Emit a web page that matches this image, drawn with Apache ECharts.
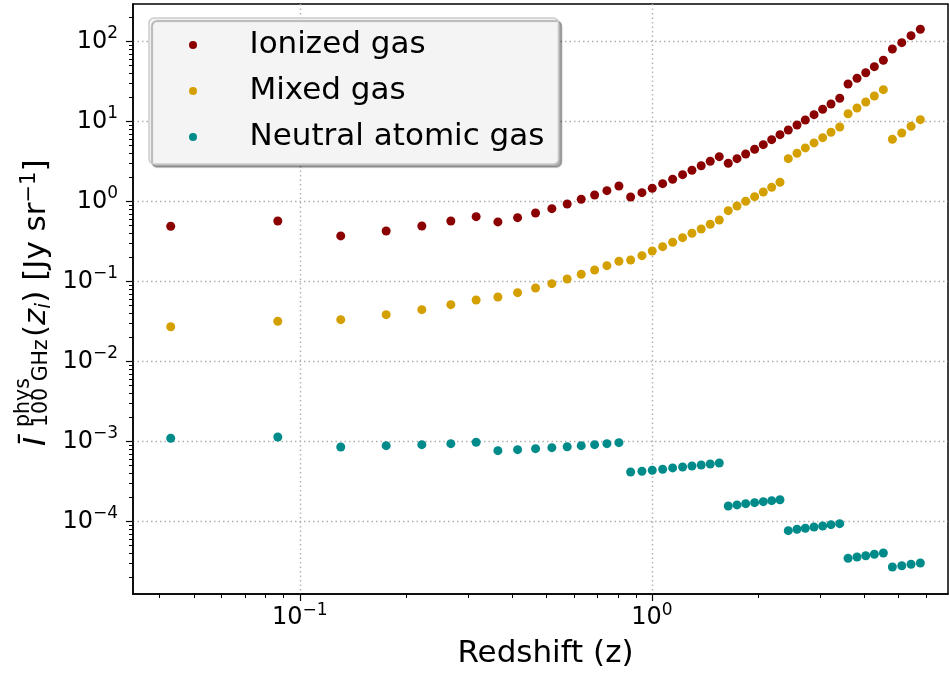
<!DOCTYPE html>
<html><head><meta charset="utf-8">
<script src="https://cdn.jsdelivr.net/npm/echarts@6/dist/echarts.min.js"></script>
<style>html,body{margin:0;padding:0;background:#fff}#c{width:949px;height:675px}</style>
</head><body><div id="c"></div>
<script>
// Redshift bin centres
const zValues = [0.0430, 0.0866, 0.1307, 0.1759, 0.2221, 0.2685, 0.3168, 0.3652, 0.4154, 0.4672,
  0.5198, 0.5745, 0.6298, 0.6874, 0.7450, 0.8058, 0.8699, 0.9367, 1.002, 1.0725,
  1.145, 1.222, 1.299, 1.380, 1.464, 1.553, 1.647, 1.744, 1.846, 1.957,
  2.071, 2.188, 2.310, 2.439, 2.582, 2.726, 2.886, 3.054, 3.225, 3.414,
  3.605, 3.823, 4.047, 4.281, 4.541, 4.817, 5.122, 5.442, 5.784];
const ionized = [0.490, 0.570, 0.371, 0.428, 0.494, 0.570, 0.646, 0.555, 0.627, 0.718,
  0.813, 0.931, 1.065, 1.205, 1.365, 1.563, 1.138, 1.288, 1.462, 1.669,
  1.895, 2.163, 2.455, 2.80, 3.18, 3.63, 3.00, 3.43, 3.92, 4.49,
  5.13, 5.92, 6.84, 7.83, 9.04, 10.44, 12.16, 14.2, 16.55, 19.5,
  29.4, 34.7, 40.7, 48.4, 58.2, 80.6, 96.6, 118.2, 142];
const mixed = [0.0272, 0.0318, 0.0333, 0.0385, 0.0444, 0.0513, 0.0587, 0.0640, 0.0724, 0.0829,
  0.0939, 0.1075, 0.1230, 0.1393, 0.1576, 0.1788, 0.1857, 0.2102, 0.2405, 0.2723,
  0.309, 0.353, 0.400, 0.453, 0.519, 0.587, 0.767, 0.879, 1.006, 1.148,
  1.315, 1.504, 1.738, 3.43, 4.00, 4.67, 5.39, 6.27, 7.33, 8.54,
  12.5, 14.75, 17.5, 20.8, 25.0, 5.99, 7.18, 8.71, 10.53];
const neutral = [1.096e-3, 1.138e-3, 8.53e-4, 8.86e-4, 9.12e-4, 9.39e-4, 9.77e-4, 7.67e-4, 7.90e-4, 8.13e-4,
  8.37e-4, 8.60e-4, 8.86e-4, 9.12e-4, 9.39e-4, 9.66e-4, 4.16e-4, 4.24e-4, 4.37e-4, 4.49e-4,
  4.67e-4, 4.80e-4, 4.94e-4, 5.08e-4, 5.23e-4, 5.39e-4, 1.563e-4, 1.61e-4, 1.67e-4, 1.72e-4,
  1.77e-4, 1.82e-4, 1.87e-4, 7.67e-5, 7.99e-5, 8.22e-5, 8.53e-5, 8.79e-5, 9.12e-5, 9.39e-5,
  3.47e-5, 3.60e-5, 3.73e-5, 3.89e-5, 4.04e-5, 2.70e-5, 2.80e-5, 2.92e-5, 3.03e-5];
const seriesNames = ['Ionized gas', 'Mixed gas', 'Neutral atomic gas'];
const xMajorTicks = [0.1, 1];
const yMajorTicks = [1e-4, 1e-3, 1e-2, 1e-1, 1, 10, 100];
const xRange = [0.0336, 6.93];
const yRange = [1.24e-5, 294];

function minorTicks(lo, hi) {
  const out = [];
  for (let e = Math.floor(Math.log10(lo)); e <= Math.ceil(Math.log10(hi)); e++) {
    for (let m = 2; m <= 9; m++) {
      const v = m * Math.pow(10, e);
      if (v > lo && v < hi) out.push(v);
    }
  }
  return out;
}
const xMinorTicks = minorTicks(xRange[0], xRange[1]);
const yMinorTicks = minorTicks(yRange[0], yRange[1]);

const FONT = 'DejaVu Sans';
const colors = ['#8B0000', '#D4A000', '#008B8B'];
function powLabel(v) {
  const e = Math.round(Math.log10(v));
  return '10{sup|' + (e < 0 ? '\u2212' + (-e) : String(e)) + '}';
}
const tickRich = { sup: { fontSize: 17, fontFamily: FONT, color: '#000', verticalAlign: 'top', lineHeight: 16 } };

const chart = echarts.init(document.getElementById('c'));
const gridLine = { show: true, lineStyle: { color: '#b0b0b0', type: [1.5, 3], width: 1.4 } };
const black = '#000';

function majorAxis(range, ticks, isX) {
  return {
    type: 'log', logBase: 10, min: range[0], max: range[1], gridIndex: 0,
    position: isX ? 'bottom' : 'left',
    axisLine: { show: true, lineStyle: { color: black, width: 1.5 } },
    axisTick: { show: true, customValues: ticks, length: 7, lineStyle: { color: black, width: 1.2 } },
    axisLabel: {
      show: true, customValues: ticks, formatter: powLabel, rich: tickRich,
      fontSize: 24, fontFamily: FONT, color: black, lineHeight: 32,
      margin: isX ? 8 : 15
    },
    splitLine: gridLine, minorTick: { show: false }, minorSplitLine: { show: false }
  };
}
function minorAxis(range, ticks, isX) {
  return {
    type: 'log', logBase: 10, min: range[0], max: range[1], gridIndex: 0,
    position: isX ? 'bottom' : 'left',
    axisLine: { show: false },
    axisTick: { show: true, customValues: ticks, length: 4, lineStyle: { color: black, width: 1 } },
    axisLabel: { show: false },
    splitLine: { show: false }
  };
}

const xMain = majorAxis(xRange, xMajorTicks, true);
xMain.name = 'Redshift (z)';
xMain.nameLocation = 'middle';
xMain.nameGap = 44;
xMain.nameTextStyle = { fontSize: 31, fontFamily: FONT, color: black, padding: [0, 0, 0, 10] };

const mk = (vals) => zValues.map((z, i) => [z, vals[i]]);

chart.setOption({
  animation: false,
  backgroundColor: '#fff',
  textStyle: { fontFamily: FONT },
  grid: { left: 133, right: 1, top: 4, bottom: 81, show: true, borderColor: black, borderWidth: 1.5, backgroundColor: 'transparent' },
  xAxis: [xMain, minorAxis(xRange, xMinorTicks, true)],
  yAxis: [majorAxis(yRange, yMajorTicks, false), minorAxis(yRange, yMinorTicks, false)],
  legend: {
    orient: 'vertical', left: 149, top: 18,
    padding: [10, 14, 10, 40], itemGap: 12,
    itemWidth: 57, itemHeight: 8, icon: 'circle',
    backgroundColor: '#f4f4f4', borderColor: '#cccccc', borderWidth: 1.5, borderRadius: 5,
    shadowColor: 'rgba(0,0,0,0.33)', shadowOffsetX: 3, shadowOffsetY: 3, shadowBlur: 1,
    textStyle: { fontSize: 31, fontFamily: FONT, color: black, lineHeight: 34, padding: [0, 0, 0, 23] },
    data: seriesNames
  },
  graphic: [{
    type: 'group', x: 37, y: 446, rotation: Math.PI / 2,
    children: [
      { type: 'text', x: 0, y: 0, style: { text: '\u012A', fontSize: 31, fontStyle: 'italic', fontFamily: FONT, fill: black, align: 'left', verticalAlign: 'middle' } },
      { type: 'text', x: 19, y: -13, style: { text: 'phys', fontSize: 20.5, fontFamily: FONT, fill: black, align: 'left', verticalAlign: 'middle' } },
      { type: 'text', x: 19, y: 5, style: { text: '100 GHz', fontSize: 20.5, fontFamily: FONT, fill: black, align: 'left', verticalAlign: 'middle' } },
      { type: 'text', x: 109, y: 0, style: {
          text: '({it|z}{sub|i}) [Jy sr{sup|\u22121}]', fontSize: 31, fontFamily: FONT, fill: black,
          align: 'left', verticalAlign: 'middle', lineHeight: 36,
          rich: {
            it: { fontSize: 31, fontStyle: 'italic', fontFamily: FONT, fill: black, lineHeight: 36 },
            sub: { fontSize: 21, fontStyle: 'italic', fontFamily: FONT, fill: black, verticalAlign: 'bottom', lineHeight: 20 },
            sup: { fontSize: 21, fontFamily: FONT, fill: black, verticalAlign: 'top', lineHeight: 18 }
          }
      } }
    ]
  }],
  series: seriesNames.map((name, k) => ({
    name, type: 'scatter', xAxisIndex: 0, yAxisIndex: 0,
    symbol: 'circle', symbolSize: 9,
    itemStyle: { color: colors[k], opacity: 1 },
    data: mk([ionized, mixed, neutral][k])
  }))
});
</script>
</body></html>
